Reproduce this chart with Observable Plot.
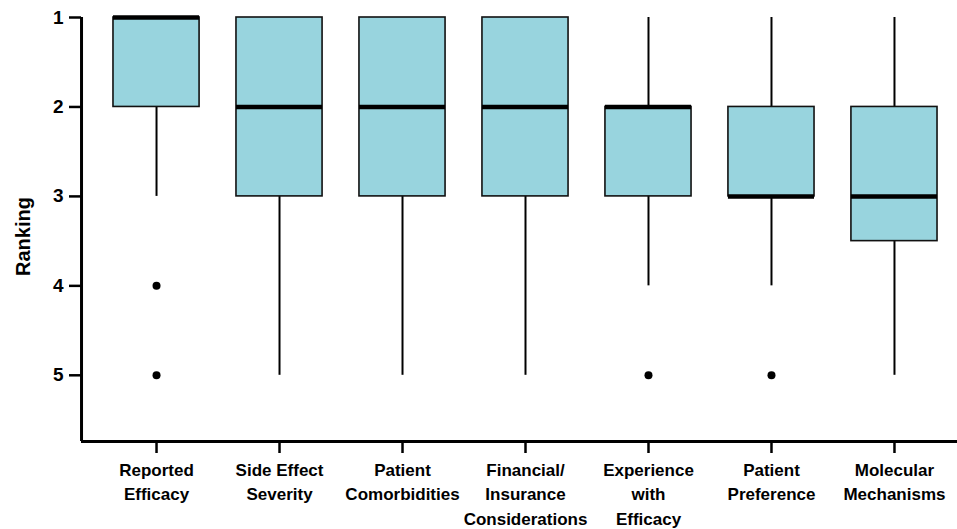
<!DOCTYPE html>
<html><head><meta charset="utf-8">
<script src="https://cdn.jsdelivr.net/npm/d3@7"></script>
<script src="https://cdn.jsdelivr.net/npm/@observablehq/plot@0.6"></script>
<style>body{margin:0;background:#fff;font-family:"Liberation Sans",Arial,sans-serif;}</style>
</head><body><div id="chart"></div>
<script>
const categories = ["Reported\nEfficacy","Side Effect\nSeverity","Patient\nComorbidities","Financial/\nInsurance\nConsiderations","Experience\nwith\nEfficacy","Patient\nPreference","Molecular\nMechanisms"];
const q1 =      [1, 1, 1, 1, 2, 2, 2];
const median =  [1, 2, 2, 2, 2, 3, 3];
const q3 =      [2, 3, 3, 3, 3, 3, 3.5];
const whiskLo = [1, 1, 1, 1, 1, 1, 1];
const whiskHi = [3, 5, 5, 5, 4, 4, 5];
const outlierCat = ["Reported\nEfficacy","Reported\nEfficacy","Experience\nwith\nEfficacy","Patient\nPreference"];
const outlierVal = [4, 5, 5, 5];
const yTicks = [1, 2, 3, 4, 5];

const boxes = categories.map((c, i) => ({cat: c, q1: q1[i], med: median[i], q3: q3[i], lo: whiskLo[i], hi: whiskHi[i]}));
const outliers = outlierCat.map((c, i) => ({cat: c, v: outlierVal[i]}));

const chart = Plot.plot({
  width: 957, height: 529,
  marginLeft: 81, marginRight: 0, marginTop: 17, marginBottom: 88,
  style: {fontFamily: "Liberation Sans, Arial, sans-serif", fontWeight: "bold", color: "#000", background: "#fff"},
  x: {domain: categories, range: [81, 969], paddingInner: 0.3, paddingOuter: 0.26, round: false},
  y: {domain: [1, 5.74], reverse: true},
  marks: [
    Plot.ruleX(boxes.filter(d => d.q1 > d.lo), {x: "cat", y1: "lo", y2: "q1", stroke: "#000", strokeWidth: 2}),
    Plot.ruleX(boxes.filter(d => d.hi > d.q3), {x: "cat", y1: "q3", y2: "hi", stroke: "#000", strokeWidth: 2}),
    Plot.barY(boxes, {x: "cat", y1: "q1", y2: "q3", fill: "#98d4de", stroke: "#111", strokeWidth: 1.6}),
    Plot.tickY(boxes, {x: "cat", y: "med", stroke: "#000", strokeWidth: 4.5}),
    Plot.dot(outliers, {x: "cat", y: "v", r: 4, fill: "#000", stroke: "none"}),
    Plot.axisY({ticks: yTicks, tickFormat: d => String(d), tickSize: 12, tickPadding: 6, strokeWidth: 2.5, fontSize: 19, label: null}),
    Plot.text(["Ranking"], {frameAnchor: "left", textAnchor: "middle", rotate: -90, dx: -58, dy: 7, fontSize: 20, fontWeight: "bold", fill: "#000"}),
    Plot.axisX({tickSize: 12, tickPadding: 5, strokeWidth: 2.5, fontSize: 17, lineHeight: 1.44, label: null}),
    Plot.ruleY([5.74], {stroke: "#000", strokeWidth: 3}),
    Plot.ruleX([categories[0]], {y1: 1, y2: 5.74, dx: -75, stroke: "#000", strokeWidth: 3})
  ]
});
document.getElementById("chart").appendChild(chart);
</script></body></html>
